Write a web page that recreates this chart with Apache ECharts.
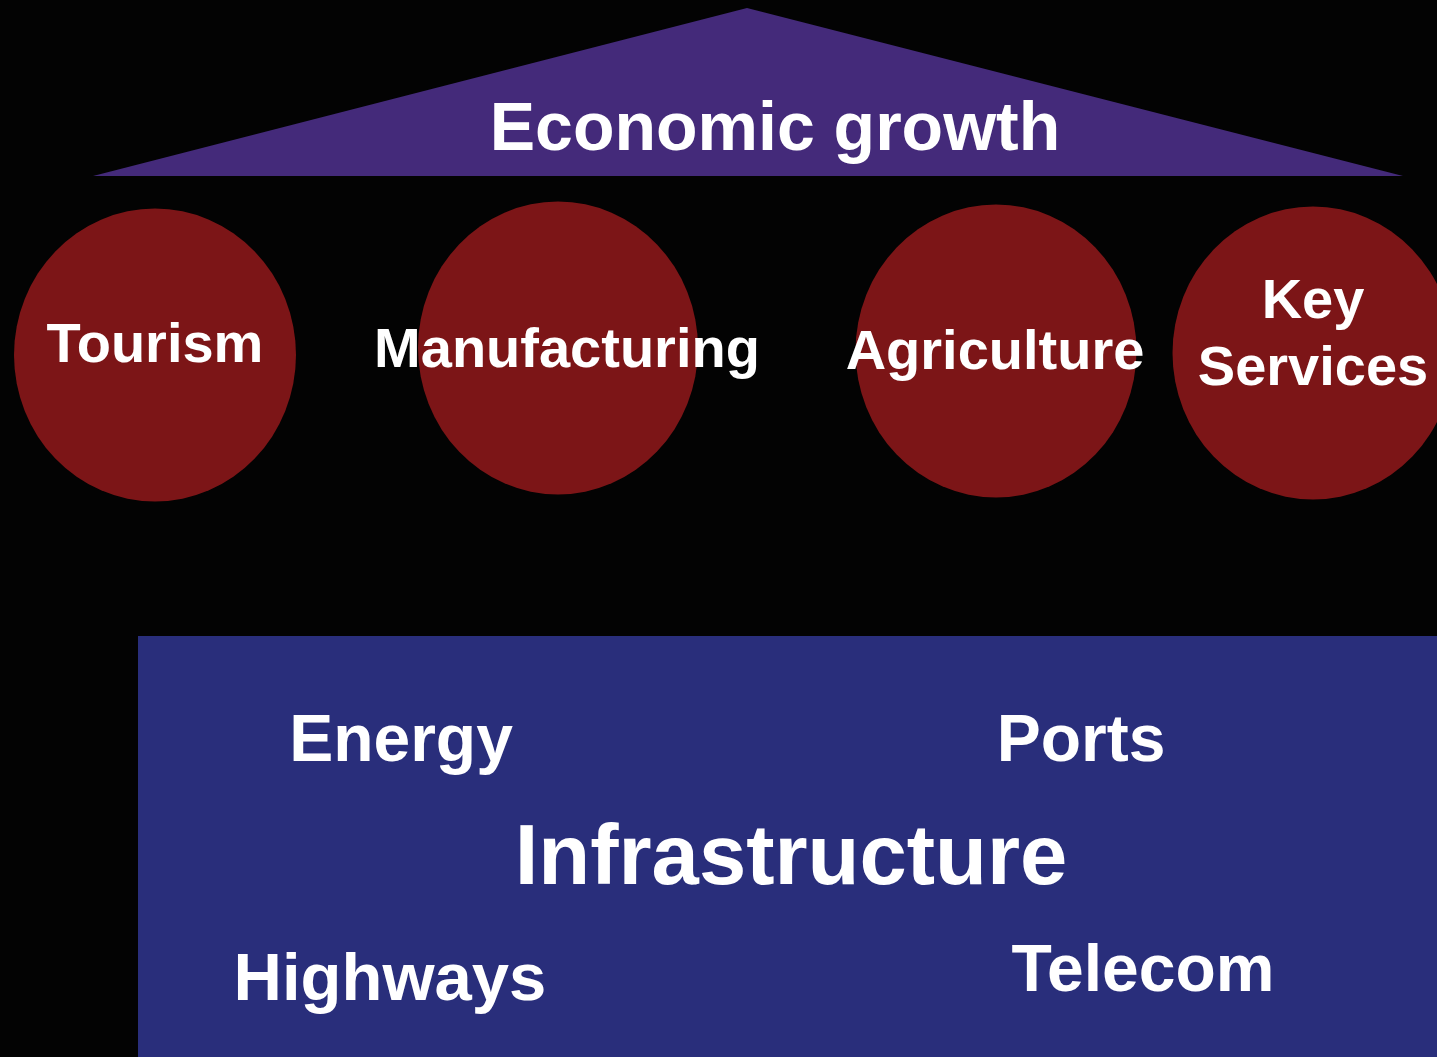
<!DOCTYPE html>
<html>
<head>
<meta charset="utf-8">
<script src="https://cdn.jsdelivr.net/npm/echarts@6/dist/echarts.min.js"></script>
<style>
  html, body { margin: 0; padding: 0; background: #030303; }
  #main { width: 1437px; height: 1057px; }
</style>
</head>
<body>
<div id="main"></div>
<script>
// roof triangle (left base, apex, right base)
const roofX = [93, 747, 1403]
const roofY = [176, 8, 176]

// foundation block [x0, y0, x1, y1]
const baseBox = [138, 636, 1437, 1057]

// pillars
const pillarNames = ['Tourism', 'Manufacturing', 'Agriculture', 'Key\nServices']
const pillarX = [155, 558, 996, 1313]
const pillarY = [355, 348, 351, 353]
const pillarW = [282, 280, 281, 281]
const pillarH = [293, 293, 293, 293]
const pillarLabelX = [155, 567, 995, 1313]
const pillarLabelY = [347, 352, 354, 336]

// free text
const textNames = ['Economic growth', 'Energy', 'Ports', 'Infrastructure', 'Highways', 'Telecom']
const textX = [775, 401, 1081, 791, 390, 1143]
const textY = [131, 743, 743, 861, 982, 973]
const textSize = [68, 66, 66, 85, 67, 66]

const chart = echarts.init(document.getElementById('main'))

const font = '"Liberation Sans", Helvetica, Arial, sans-serif'

const option = {
  backgroundColor: '#030303',
  animation: false,
  grid: { left: 0, right: 0, top: 0, bottom: 0 },
  xAxis: { type: 'value', min: 0, max: 1437, show: false },
  yAxis: { type: 'value', min: 0, max: 1057, inverse: true, show: false },
  series: [
    {
      // roof
      type: 'custom',
      silent: true,
      data: [0],
      renderItem: (params, api) => {
        const pts = roofX.map((x, i) => api.coord([x, roofY[i]]))
        return { type: 'polygon', shape: { points: pts }, style: { fill: '#442a7a' } }
      }
    },
    {
      // foundation
      type: 'custom',
      silent: true,
      data: [0],
      renderItem: (params, api) => {
        const p0 = api.coord([baseBox[0], baseBox[1]])
        const p1 = api.coord([baseBox[2], baseBox[3]])
        return {
          type: 'rect',
          shape: { x: p0[0], y: p0[1], width: p1[0] - p0[0], height: p1[1] - p0[1] },
          style: { fill: '#292e7b' }
        }
      }
    },
    {
      // pillars
      type: 'scatter',
      silent: true,
      symbol: 'circle',
      data: pillarNames.map((n, i) => ({
        name: n,
        value: [pillarX[i], pillarY[i]],
        symbolSize: [pillarW[i], pillarH[i]]
      })),
      itemStyle: { color: '#7c1517', opacity: 1 }
    },
    {
      // pillar labels
      type: 'scatter',
      silent: true,
      symbolSize: 0,
      itemStyle: { opacity: 1 },
      data: pillarNames.map((n, i) => ({ name: n, value: [pillarLabelX[i], pillarLabelY[i]] })),
      label: {
        show: true,
        position: 'inside',
        formatter: p => p.name,
        color: '#ffffff',
        opacity: 1,
        fontFamily: font,
        fontWeight: 'bold',
        fontSize: 56,
        lineHeight: 67,
        align: 'center',
        verticalAlign: 'middle'
      }
    },
    {
      // headings and infrastructure items
      type: 'scatter',
      silent: true,
      symbolSize: 0,
      itemStyle: { opacity: 1 },
      data: textNames.map((n, i) => ({
        name: n,
        value: [textX[i], textY[i]],
        label: { fontSize: textSize[i] }
      })),
      label: {
        show: true,
        position: 'inside',
        formatter: p => p.name,
        color: '#ffffff',
        opacity: 1,
        fontFamily: font,
        fontWeight: 'bold',
        align: 'center',
        verticalAlign: 'middle'
      }
    }
  ]
}

chart.setOption(option)
</script>
</body>
</html>
